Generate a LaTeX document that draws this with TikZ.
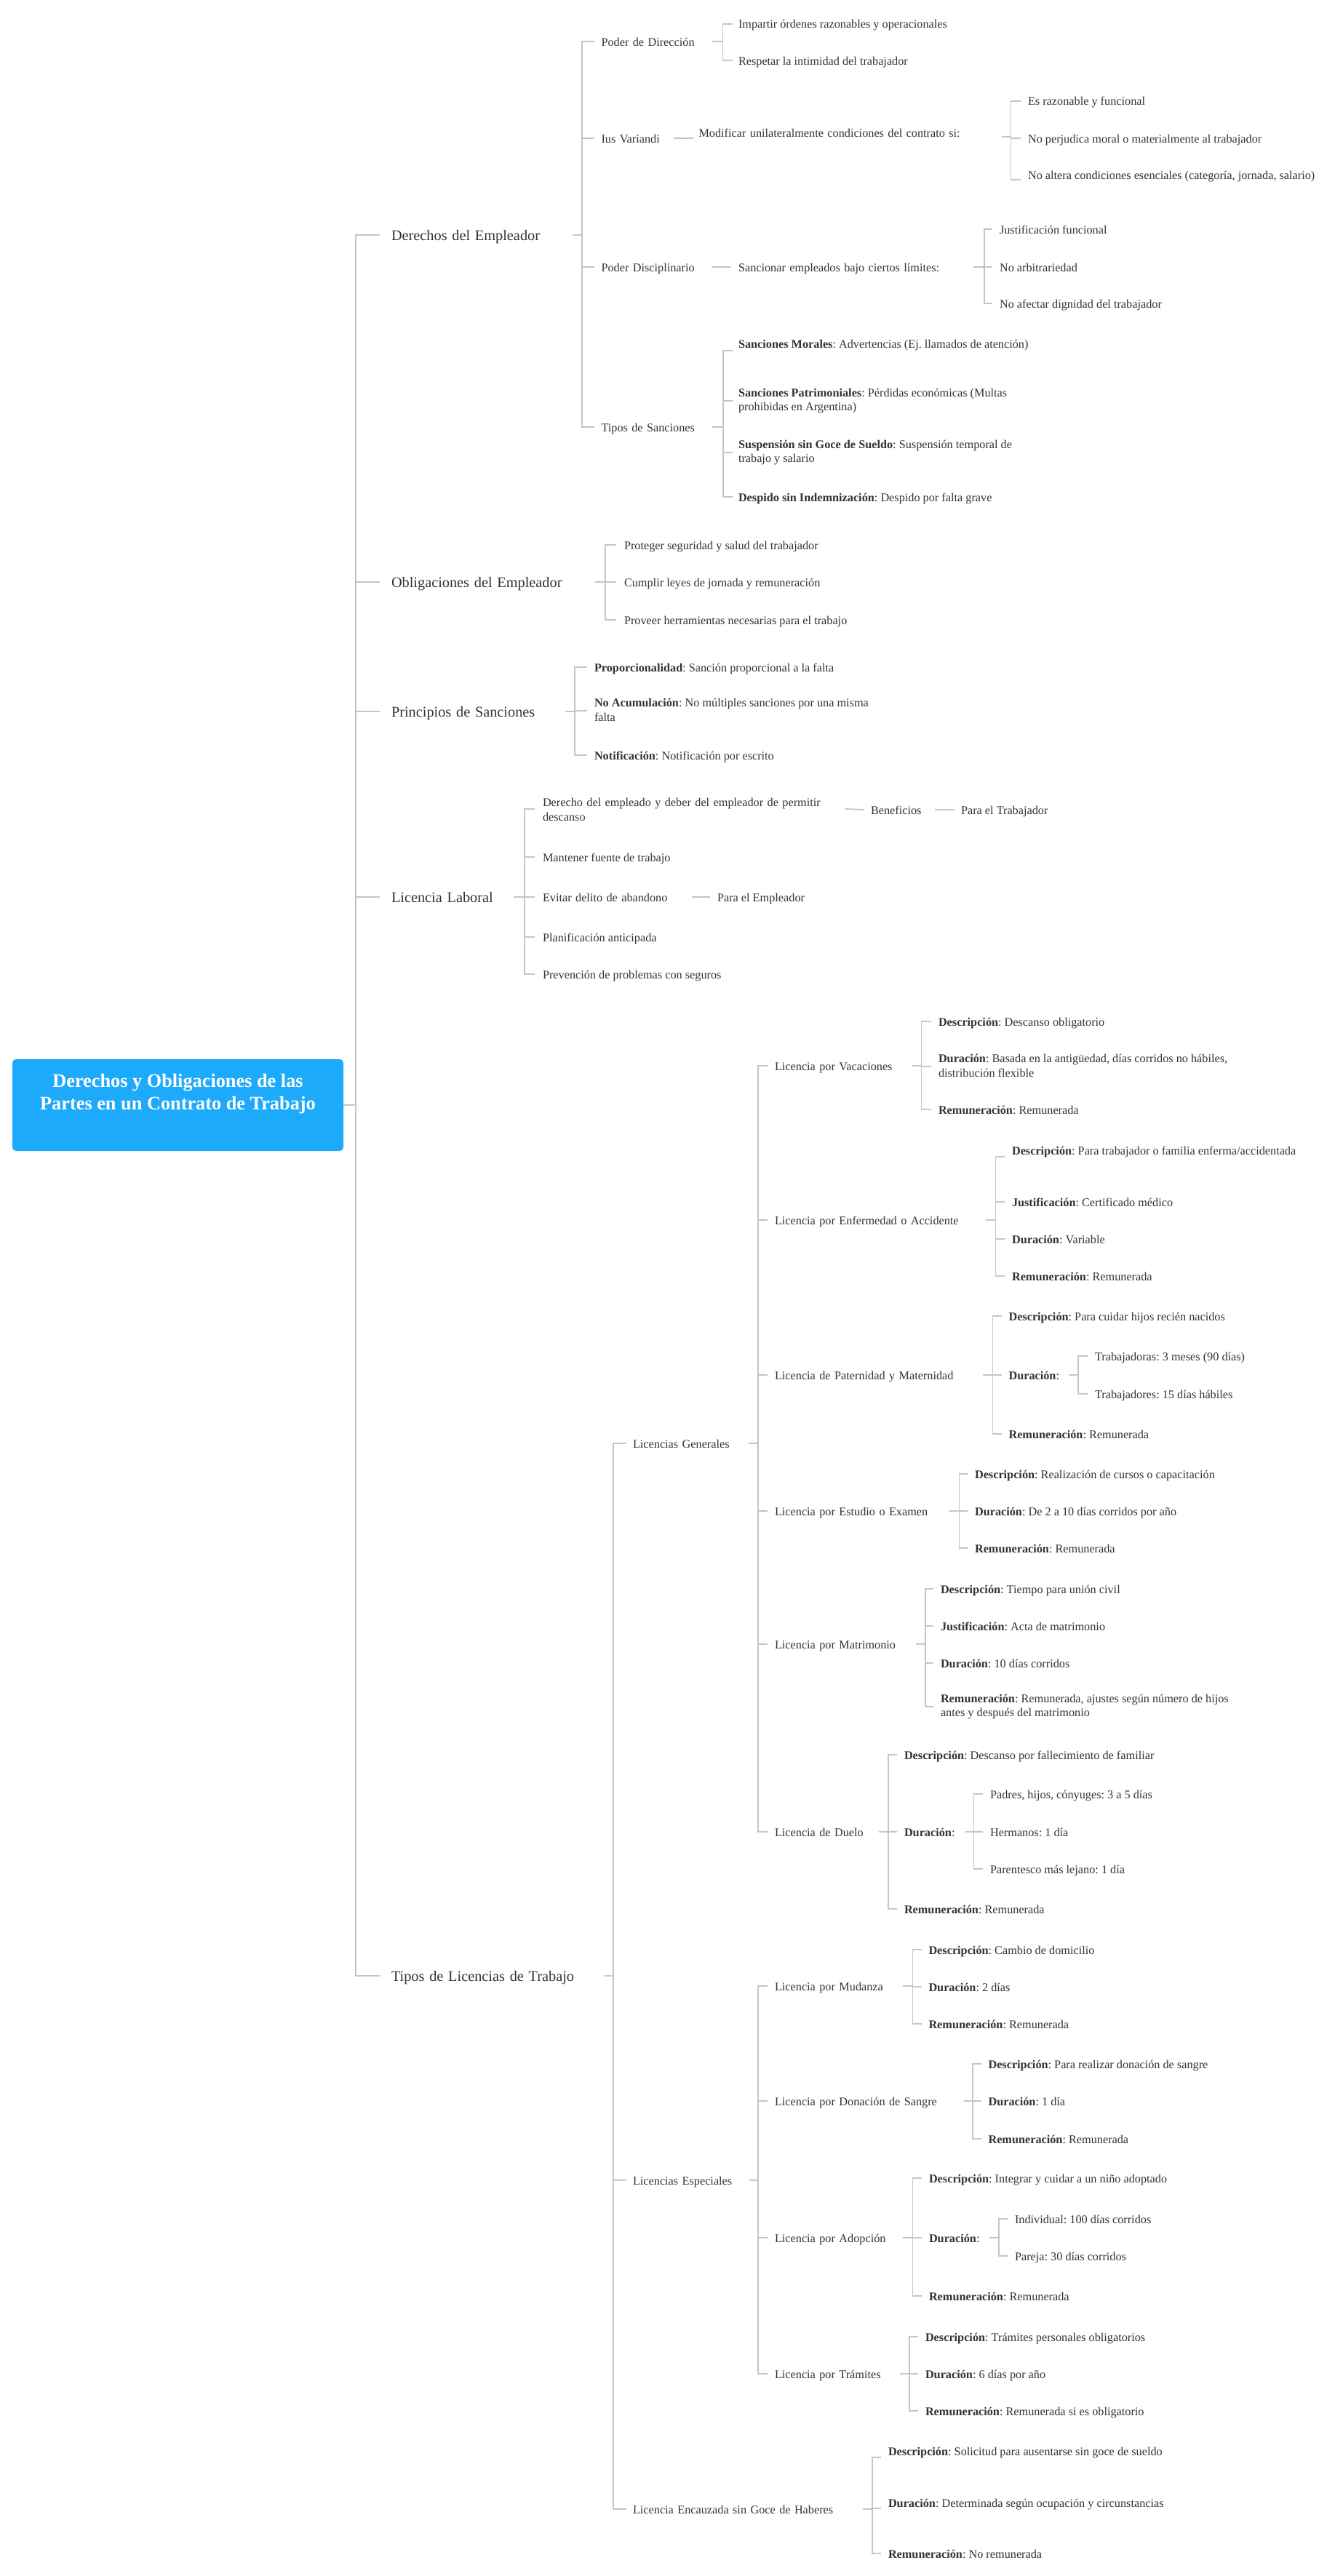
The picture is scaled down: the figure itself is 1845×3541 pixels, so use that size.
\documentclass[tikz,border=0pt]{standalone}
\usepackage{fontspec}
\setmainfont{Liberation Serif}

\definecolor{txt}{HTML}{333333}
\definecolor{wire}{RGB}{192,198,203}
\definecolor{rootblue}{RGB}{30,170,251}

\newcommand\fsN{\fontsize{16.25}{19.5}\selectfont}
\newcommand\fsL{\fontsize{20.3}{24}\selectfont}
\newcommand\fsR{\fontsize{26.3}{31}\selectfont\bfseries}
\newcommand\lb[1]{\textbf{#1}}
% line struts: fix the height and depth of every text line
\newcommand\sN{\rule[-2.7pt]{0pt}{18.2pt}}
\newcommand\sL{\rule[-3.4pt]{0pt}{22.4pt}}

% parent -> vertical bar
\newcommand\outstub[2]{\draw[stubline] (#1.east) -- (#1.east -| #2);}
% vertical bar with the first and last child stubs: bar, gap, first, last
\newcommand\fork[4]{\draw[wireline] ([xshift=-#2]#3) -- (#1 |- #3) -- (#1 |- #4) -- ([xshift=-#2]#4);}
% middle child stub: bar, gap, child
\newcommand\twig[3]{\draw[wireline] (#1 |- #3) -- ([xshift=-#2]#3);}
% single child straight link: parent, child, gap
\newcommand\link[3]{\draw[stubline] (#1.east) -- ([xshift=-#3]#2.west);}

\tikzset{
  item/.style={anchor=west, inner sep=0pt, outer sep=0pt, align=left, text=txt,
    font=\fsN, execute at begin node=\sN},
  topic/.style={anchor=west, inner sep=0pt, outer sep=0pt, align=left, text=txt,
    font=\fsL, execute at begin node=\sL},
  rootbox/.style={fill=rootblue, draw=none, rounded corners=5pt, minimum width=455pt,
    minimum height=126pt, inner sep=0pt},
  roottitle/.style={text=white, font=\fsR, align=center, inner sep=0pt},
  trunkline/.style={draw=wire, line width=2.3pt},
  wireline/.style={draw=wire, line width=1.3pt},
  stubline/.style={draw=wire, line width=1.8pt},
}

\begin{document}
\frenchspacing
\begin{tikzpicture}[x=1pt,y=-1pt]
\fill[white] (0,0) rectangle (1845,3541);
\useasboundingbox (0,0) rectangle (1845,3541);

% x positions of the vertical bars
\coordinate (bTrunk) at (489,0);
\coordinate (bEmp) at (800,0);
\coordinate (bDir) at (993.6,0);
\coordinate (bMod) at (1389.7,0);
\coordinate (bSan) at (1353,0);
\coordinate (bTip) at (994,0);
\coordinate (bObl) at (832,0);
\coordinate (bPri) at (790,0);
\coordinate (bLab) at (721,0);
\coordinate (bLic) at (843,0);
\coordinate (bGen) at (1042,0);
\coordinate (bVac) at (1266.5,0);
\coordinate (bEnf) at (1368.5,0);
\coordinate (bPat) at (1364.5,0);
\coordinate (bPatD) at (1482,0);
\coordinate (bEst) at (1318.5,0);
\coordinate (bMat) at (1272,0);
\coordinate (bDue) at (1221,0);
\coordinate (bDueD) at (1338.5,0);
\coordinate (bEsp) at (1042,0);
\coordinate (bMud) at (1254.5,0);
\coordinate (bDon) at (1337,0);
\coordinate (bAdo) at (1254.5,0);
\coordinate (bAdoD) at (1373,0);
\coordinate (bTra) at (1250,0);
\coordinate (bEnc) at (1199,0);

% ---------- root ----------
\node[rootbox] (root) at (244.5,1519) {};
\node[roottitle] (title) at (244.5,1504) {Derechos y Obligaciones de las\\Partes en un Contrato de Trabajo};

% ---------- main topics ----------
\node[topic, text width=249pt] (emp) at (538,323) {Derechos del Empleador};
\node[topic, text width=280pt] (obl) at (538,800) {Obligaciones del Empleador};
\node[topic, text width=239pt] (pri) at (538,978) {Principios de Sanciones};
\node[topic, text width=168pt] (lab) at (538,1233) {Licencia Laboral};
\node[topic, text width=293pt] (lic) at (538,2716) {Tipos de Licencias de Trabajo};

% ---------- Derechos del Empleador ----------
\node[item, text width=152.5pt] (dir) at (826.5,57) {Poder de Dirección};
\node[item] (dir1) at (1015,33) {Impartir órdenes razonables y operacionales};
\node[item] (dir2) at (1015,83) {Respetar la intimidad del trabajador};
\node[item, text width=99pt] (ius) at (826.5,190) {Ius Variandi};
\node[item, text width=416pt] (mod) at (960.5,182) {Modificar unilateralmente condiciones del contrato si:};
\node[item] (mod1) at (1413,139) {Es razonable y funcional};
\node[item] (mod2) at (1413,190) {No perjudica moral o materialmente al trabajador};
\node[item] (mod3) at (1413,241) {No altera condiciones esenciales (categoría, jornada, salario)};
\node[item, text width=151.5pt] (dis) at (826.5,367) {Poder Disciplinario};
\node[item, text width=322.5pt] (san) at (1015,367) {Sancionar empleados bajo ciertos límites:};
\node[item] (san1) at (1374,315) {Justificación funcional};
\node[item] (san2) at (1374,367) {No arbitrariedad};
\node[item] (san3) at (1374,417) {No afectar dignidad del trabajador};
\node[item, text width=152.5pt] (tip) at (826.5,587) {Tipos de Sanciones};
\node[item] (tip1) at (1015,472) {\lb{Sanciones Morales}: Advertencias (Ej. llamados de atención)};
\node[item] (tip2) at (1015,551) {\lb{Sanciones Patrimoniales}: Pérdidas económicas (Multas\\\sN prohibidas en Argentina)};
\node[item] (tip3) at (1015,622) {\lb{Suspensión sin Goce de Sueldo}: Suspensión temporal de\\\sN trabajo y salario};
\node[item] (tip4) at (1015,683) {\lb{Despido sin Indemnización}: Despido por falta grave};

% ---------- Obligaciones del Empleador ----------
\node[item] (obl1) at (858,749) {Proteger seguridad y salud del trabajador};
\node[item] (obl2) at (858,800) {Cumplir leyes de jornada y remuneración};
\node[item] (obl3) at (858,852) {Proveer herramientas necesarias para el trabajo};

% ---------- Principios de Sanciones ----------
\node[item] (pri1) at (817,917) {\lb{Proporcionalidad}: Sanción proporcional a la falta};
\node[item] (pri2) at (817,977) {\lb{No Acumulación}: No múltiples sanciones por una misma\\\sN falta};
\node[item] (pri3) at (817,1038) {\lb{Notificación}: Notificación por escrito};

% ---------- Licencia Laboral ----------
\node[item, text width=416pt] (lab1) at (746,1112) {Derecho del empleado y deber del empleador de permitir\\\sN descanso};
\node[item, text width=88pt] (ben) at (1197,1113) {Beneficios};
\node[item] (trab) at (1321,1113) {Para el Trabajador};
\node[item] (lab2) at (746,1178) {Mantener fuente de trabajo};
\node[item, text width=205pt] (lab3) at (746,1233) {Evitar delito de abandono};
\node[item] (empl) at (986,1233) {Para el Empleador};
\node[item] (lab4) at (746,1288) {Planificación anticipada};
\node[item] (lab5) at (746,1339) {Prevención de problemas con seguros};

% ---------- Tipos de Licencias de Trabajo ----------
\node[item, text width=158.6pt] (gen) at (870,1984) {Licencias Generales};
\node[item, text width=160pt] (esp) at (870,2997) {Licencias Especiales};
\node[item, text width=315.5pt] (enc) at (870,3449) {Licencia Encauzada sin Goce de Haberes};

% Licencias Generales
\node[item, text width=188pt] (vac) at (1065,1465) {Licencia por Vacaciones};
\node[item, text width=289.5pt] (enf) at (1065,1677) {Licencia por Enfermedad o Accidente};
\node[item, text width=285.5pt] (pat) at (1065,1890) {Licencia de Paternidad y Maternidad};
\node[item, text width=239.5pt] (est) at (1065,2077) {Licencia por Estudio o Examen};
\node[item, text width=193.5pt] (mat) at (1065,2260) {Licencia por Matrimonio};
\node[item, text width=143pt] (due) at (1065,2518) {Licencia de Duelo};

\node[item] (vac1) at (1290,1404) {\lb{Descripción}: Descanso obligatorio};
\node[item] (vac2) at (1290,1466) {\lb{Duración}: Basada en la antigüedad, días corridos no hábiles,\\\sN distribución flexible};
\node[item] (vac3) at (1290,1525) {\lb{Remuneración}: Remunerada};

\node[item] (enf1) at (1391,1581) {\lb{Descripción}: Para trabajador o familia enferma/accidentada};
\node[item] (enf2) at (1391,1652) {\lb{Justificación}: Certificado médico};
\node[item] (enf3) at (1391,1703) {\lb{Duración}: Variable};
\node[item] (enf4) at (1391,1754) {\lb{Remuneración}: Remunerada};

\node[item] (pat1) at (1386.5,1809) {\lb{Descripción}: Para cuidar hijos recién nacidos};
\node[item, text width=82pt] (pat2) at (1386.5,1890) {\lb{Duración}:};
\node[item] (pat3) at (1386.5,1971) {\lb{Remuneración}: Remunerada};
\node[item] (pat21) at (1505,1864) {Trabajadoras: 3 meses (90 días)};
\node[item] (pat22) at (1505,1916) {Trabajadores: 15 días hábiles};

\node[item] (est1) at (1340,2026) {\lb{Descripción}: Realización de cursos o capacitación};
\node[item] (est2) at (1340,2077) {\lb{Duración}: De 2 a 10 días corridos por año};
\node[item] (est3) at (1340,2128) {\lb{Remuneración}: Remunerada};

\node[item] (mat1) at (1293,2184) {\lb{Descripción}: Tiempo para unión civil};
\node[item] (mat2) at (1293,2235) {\lb{Justificación}: Acta de matrimonio};
\node[item] (mat3) at (1293,2286) {\lb{Duración}: 10 días corridos};
\node[item] (mat4) at (1293,2346) {\lb{Remuneración}: Remunerada, ajustes según número de hijos\\\sN antes y después del matrimonio};

\node[item] (due1) at (1243,2412) {\lb{Descripción}: Descanso por fallecimiento de familiar};
\node[item, text width=83.5pt] (due2) at (1243,2518) {\lb{Duración}:};
\node[item] (due3) at (1243,2624) {\lb{Remuneración}: Remunerada};
\node[item] (due21) at (1361,2466) {Padres, hijos, cónyuges: 3 a 5 días};
\node[item] (due22) at (1361,2518) {Hermanos: 1 día};
\node[item] (due23) at (1361,2569) {Parentesco más lejano: 1 día};

% Licencias Especiales
\node[item, text width=176pt] (mud) at (1065,2730) {Licencia por Mudanza};
\node[item, text width=259.5pt] (don) at (1065,2888) {Licencia por Donación de Sangre};
\node[item, text width=176pt] (ado) at (1065,3076) {Licencia por Adopción};
\node[item, text width=171.5pt] (tra) at (1065,3263) {Licencia por Trámites};

\node[item] (mud1) at (1276.5,2680) {\lb{Descripción}: Cambio de domicilio};
\node[item] (mud2) at (1276.5,2731) {\lb{Duración}: 2 días};
\node[item] (mud3) at (1276.5,2782) {\lb{Remuneración}: Remunerada};

\node[item] (don1) at (1358.5,2837) {\lb{Descripción}: Para realizar donación de sangre};
\node[item] (don2) at (1358.5,2888) {\lb{Duración}: 1 día};
\node[item] (don3) at (1358.5,2940) {\lb{Remuneración}: Remunerada};

\node[item] (ado1) at (1277,2994) {\lb{Descripción}: Integrar y cuidar a un niño adoptado};
\node[item, text width=83pt] (ado2) at (1277,3076) {\lb{Duración}:};
\node[item] (ado3) at (1277,3156) {\lb{Remuneración}: Remunerada};
\node[item] (ado21) at (1395,3050) {Individual: 100 días corridos};
\node[item] (ado22) at (1395,3101) {Pareja: 30 días corridos};

\node[item] (tra1) at (1272,3212) {\lb{Descripción}: Trámites personales obligatorios};
\node[item] (tra2) at (1272,3263) {\lb{Duración}: 6 días por año};
\node[item] (tra3) at (1272,3314) {\lb{Remuneración}: Remunerada si es obligatorio};

% Licencia Encauzada
\node[item] (enc1) at (1221,3369) {\lb{Descripción}: Solicitud para ausentarse sin goce de sueldo};
\node[item] (enc2) at (1221,3440) {\lb{Duración}: Determinada según ocupación y circunstancias};
\node[item] (enc3) at (1221,3510) {\lb{Remuneración}: No remunerada};

% ---------- connectors ----------
% trunk
\draw[trunkline] (root.east) -- (root.east -| bTrunk);
\draw[trunkline] ([xshift=-16pt]emp.west) -- (bTrunk |- emp.west) -- (bTrunk |- lic.west) -- ([xshift=-16pt]lic.west);
\foreach \n in {obl,pri,lab}
  {\draw[trunkline] (bTrunk |- \n.west) -- ([xshift=-16pt]\n.west);}

% Derechos del Empleador
\outstub{emp}{bEmp}
\fork{bEmp}{9.5pt}{dir.west}{tip.west}
\twig{bEmp}{9.5pt}{ius.west}
\twig{bEmp}{9.5pt}{dis.west}
\outstub{dir}{bDir}
\fork{bDir}{8pt}{dir1.west}{dir2.west}
\coordinate (modIn) at ([yshift=-8pt]mod.west);
\draw[stubline] (ius.east) -- ([xshift=-8pt]modIn);
\coordinate (modOut) at ([yshift=-6pt]mod.east);
\draw[stubline] (modOut) -- (modOut -| bMod);
\coordinate (mod3In) at ([yshift=-6pt]mod3.west);
\fork{bMod}{10pt}{mod1.west}{mod3In}
\twig{bMod}{10pt}{mod2.west}
\link{dis}{san}{10pt}
\outstub{san}{bSan}
\fork{bSan}{10pt}{san1.west}{san3.west}
\twig{bSan}{10pt}{san2.west}
\outstub{tip}{bTip}
\coordinate (tip1In) at ([yshift=-10pt]tip1.west);
\fork{bTip}{8pt}{tip1In}{tip4.west}
\twig{bTip}{8pt}{tip2.west}
\twig{bTip}{8pt}{tip3.west}

% Obligaciones
\outstub{obl}{bObl}
\fork{bObl}{11pt}{obl1.west}{obl3.west}
\twig{bObl}{11pt}{obl2.west}

% Principios
\outstub{pri}{bPri}
\fork{bPri}{10pt}{pri1.west}{pri3.west}
\twig{bPri}{10pt}{pri2.west}

% Licencia Laboral
\outstub{lab}{bLab}
\fork{bLab}{11pt}{lab1.west}{lab5.west}
\twig{bLab}{11pt}{lab2.west}
\twig{bLab}{11pt}{lab3.west}
\twig{bLab}{11pt}{lab4.west}
\link{lab1}{ben}{9pt}
\link{ben}{trab}{9pt}
\link{lab3}{empl}{10pt}

% Tipos de Licencias
\outstub{lic}{bLic}
\fork{bLic}{9pt}{gen.west}{enc.west}
\twig{bLic}{9pt}{esp.west}

\outstub{gen}{bGen}
\fork{bGen}{10pt}{vac.west}{due.west}
\twig{bGen}{10pt}{enf.west}
\twig{bGen}{10pt}{pat.west}
\twig{bGen}{10pt}{est.west}
\twig{bGen}{10pt}{mat.west}

\outstub{vac}{bVac}
\fork{bVac}{10pt}{vac1.west}{vac3.west}
\twig{bVac}{10pt}{vac2.west}

\outstub{enf}{bEnf}
\coordinate (enf1In) at ([yshift=-9pt]enf1.west);
\fork{bEnf}{10pt}{enf1In}{enf4.west}
\twig{bEnf}{10pt}{enf2.west}
\twig{bEnf}{10pt}{enf3.west}

\outstub{pat}{bPat}
\fork{bPat}{10pt}{pat1.west}{pat3.west}
\twig{bPat}{10pt}{pat2.west}
\outstub{pat2}{bPatD}
\fork{bPatD}{10pt}{pat21.west}{pat22.west}

\outstub{est}{bEst}
\fork{bEst}{10pt}{est1.west}{est3.west}
\twig{bEst}{10pt}{est2.west}

\outstub{mat}{bMat}
\fork{bMat}{10pt}{mat1.west}{mat4.west}
\twig{bMat}{10pt}{mat2.west}
\twig{bMat}{10pt}{mat3.west}

\outstub{due}{bDue}
\fork{bDue}{10pt}{due1.west}{due3.west}
\twig{bDue}{10pt}{due2.west}
\outstub{due2}{bDueD}
\fork{bDueD}{10pt}{due21.west}{due23.west}
\twig{bDueD}{10pt}{due22.west}

\outstub{esp}{bEsp}
\fork{bEsp}{10pt}{mud.west}{tra.west}
\twig{bEsp}{10pt}{don.west}
\twig{bEsp}{10pt}{ado.west}

\outstub{mud}{bMud}
\fork{bMud}{10pt}{mud1.west}{mud3.west}
\twig{bMud}{10pt}{mud2.west}

\outstub{don}{bDon}
\fork{bDon}{10pt}{don1.west}{don3.west}
\twig{bDon}{10pt}{don2.west}

\outstub{ado}{bAdo}
\fork{bAdo}{10pt}{ado1.west}{ado3.west}
\twig{bAdo}{10pt}{ado2.west}
\outstub{ado2}{bAdoD}
\fork{bAdoD}{10pt}{ado21.west}{ado22.west}

\outstub{tra}{bTra}
\fork{bTra}{10pt}{tra1.west}{tra3.west}
\twig{bTra}{10pt}{tra2.west}

\outstub{enc}{bEnc}
\coordinate (enc1In) at ([yshift=-9pt]enc1.west);
\coordinate (enc2In) at ([yshift=-8pt]enc2.west);
\fork{bEnc}{10pt}{enc1In}{enc3.west}
\twig{bEnc}{10pt}{enc2In}
\end{tikzpicture}
\end{document}
